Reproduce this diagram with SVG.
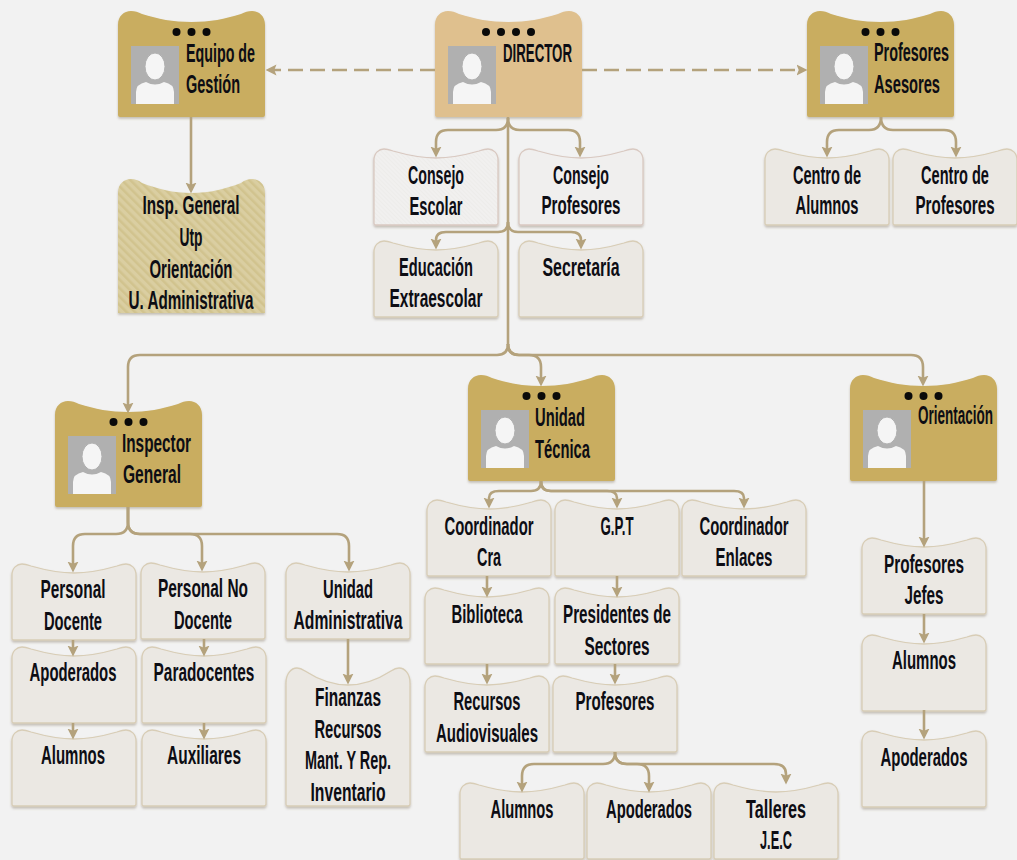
<svg xmlns="http://www.w3.org/2000/svg" width="1017" height="860" viewBox="0 0 1017 860">
<style>
text{font-family:"Liberation Sans Narrow","Liberation Sans",Arial,sans-serif;font-weight:700;font-size:25px;fill:#0d0d14;text-anchor:middle}
text.s{text-anchor:start}
.head{fill:#c9ad60;filter:url(#sh)}
.dir{fill:#dfc08e;filter:url(#sh)}
.box{fill:#ebe8e3;stroke:#d8cdb6;stroke-width:1.3;filter:url(#sh)}
.pale{fill:url(#hatch);stroke:#d9c9c1;stroke-width:1.3;filter:url(#sh)}
.pale2{fill:#f0efee;stroke:#d9c9c1;stroke-width:1.3;filter:url(#sh)}
.striped{fill:url(#stripe);filter:url(#sh)}
.c{fill:none;stroke:#b4a27c;stroke-width:2.6;marker-end:url(#ah)}
.d{fill:none;stroke:#b4a27c;stroke-width:2.6;stroke-dasharray:15 7;marker-end:url(#ah)}
.l{fill:none;stroke:#b4a27c;stroke-width:2.6}
</style>
<defs>
<filter id="sh" x="-5%" y="-5%" width="110%" height="112%"><feDropShadow dx="0" dy="1.800" stdDeviation="1" flood-color="#6e6040" flood-opacity="0.35"/></filter>
<marker id="ah" viewBox="0 0 10 10" refX="5" refY="5" markerWidth="11" markerHeight="12" markerUnits="userSpaceOnUse" orient="auto"><path d="M0 0L10 5L0 10L2 5Z" fill="#b4a27c"/></marker>
<pattern id="stripe" width="6" height="6" patternUnits="userSpaceOnUse" patternTransform="rotate(-45)"><rect width="6" height="6" fill="#dacea1"/><rect width="2.500" height="6" fill="#d1c38e"/></pattern>
<pattern id="hatch" width="3" height="3" patternUnits="userSpaceOnUse" patternTransform="rotate(-45)"><rect width="3" height="3" fill="#f1f0ef"/><rect width="1" height="3" fill="#edecea"/></pattern>
<path id="h" d="M0 105V15C0 6 6 1 13 1C17 1 20 2 24 4C40 9 55 12 73.500 12C92 12 107 9 123 4C127 2 130 1 134 1C141 1 147 6 147 15V105Q147 107 145 107H2Q0 107 0 105Z"/>
<path id="b" d="M0 74V11C0 4 5 0 10 0C13 0 16 1 19 2C33 6 46 9 62 9C78 9 91 6 105 2C108 1 111 0 114 0C119 0 124 4 124 11V74Q124 76 122 76H2Q0 76 0 74Z"/>
<path id="i" d="M0 135V15C0 6 6 1 13 1C17 1 20 2 24 5C40 11 55 15 73.500 15C92 15 107 11 123 5C127 2 130 1 134 1C141 1 147 6 147 15V135Z"/>
<path id="f" d="M0 136V15C0 6 5 0 11 0C14 0 16 1 19 3C33 12 46 17 62 17C78 17 91 12 105 3C108 1 110 0 113 0C119 0 124 6 124 15V136Q124 138 122 138H2Q0 138 0 136Z"/>
<g id="p"><rect x="13" y="36" width="48" height="58" fill="#b0b0b0"/><path d="M18 94V82Q18 74 28 72Q37 77 46 72Q56 74 56 82V94Z" fill="#f5f5f5"/><ellipse cx="37" cy="56.500" rx="10" ry="13.500" fill="#f5f5f5" stroke="#b0b0b0"/></g>
<g id="d3" fill="#0a0a0a"><circle cx="58.500" cy="22" r="4"/><circle cx="73.500" cy="22" r="4"/><circle cx="88.500" cy="22" r="4"/></g>
<g id="d4" fill="#0a0a0a"><circle cx="51" cy="22" r="4"/><circle cx="66" cy="22" r="4"/><circle cx="81" cy="22" r="4"/><circle cx="96" cy="22" r="4"/></g>
</defs>
<rect width="1017" height="860" fill="#f2f2f2"/>

<g id="n-equipo" transform="translate(118 10)"><use href="#h" class="head"/><use href="#d3"/><use href="#p"/></g>
<g id="n-equipo-t"><text class="s" x="186" y="62" textLength="69" lengthAdjust="spacingAndGlyphs">Equipo de</text><text class="s" x="186" y="93" textLength="54" lengthAdjust="spacingAndGlyphs">Gestión</text></g>
<g id="n-director" transform="translate(435 10)"><use href="#h" class="dir"/><use href="#d4"/><use href="#p"/></g>
<g id="n-director-t"><text class="s" x="503" y="62" textLength="69" lengthAdjust="spacingAndGlyphs">DIRECTOR</text></g>
<g id="n-asesores" transform="translate(807 10)"><use href="#h" class="head"/><use href="#d3"/><use href="#p"/></g>
<g id="n-asesores-t"><text class="s" x="874" y="61" textLength="75" lengthAdjust="spacingAndGlyphs">Profesores</text><text class="s" x="874" y="93" textLength="66" lengthAdjust="spacingAndGlyphs">Asesores</text></g>
<g id="n-inspector" transform="translate(55 400)"><use href="#h" class="head"/><use href="#d3"/><use href="#p"/></g>
<g id="n-inspector-t"><text class="s" x="122" y="452" textLength="69" lengthAdjust="spacingAndGlyphs">Inspector</text><text class="s" x="123" y="483" textLength="58" lengthAdjust="spacingAndGlyphs">General</text></g>
<g id="n-unidad" transform="translate(468 374)"><use href="#h" class="head"/><use href="#d3"/><use href="#p"/></g>
<g id="n-unidad-t"><text class="s" x="535" y="426" textLength="50" lengthAdjust="spacingAndGlyphs">Unidad</text><text class="s" x="535" y="458" textLength="55" lengthAdjust="spacingAndGlyphs">Técnica</text></g>
<g id="n-orientacion" transform="translate(850 374)"><use href="#h" class="head"/><use href="#d3"/><use href="#p"/></g>
<g id="n-orientacion-t"><text class="s" transform="translate(918 424) scale(.6 1)" textLength="125" lengthAdjust="spacingAndGlyphs">Orientación</text></g>

<g id="n-insp-list"><use href="#i" class="striped" x="118" y="178"/><text x="191" y="214" textLength="97" lengthAdjust="spacingAndGlyphs">Insp. General</text><text x="191" y="246" textLength="23" lengthAdjust="spacingAndGlyphs">Utp</text><text x="191" y="278" textLength="83" lengthAdjust="spacingAndGlyphs">Orientación</text><text x="191" y="309" textLength="125" lengthAdjust="spacingAndGlyphs">U. Administrativa</text></g>

<g id="n-cescolar"><use href="#b" class="pale" x="374" y="149"/><text x="436" y="184" textLength="56" lengthAdjust="spacingAndGlyphs">Consejo</text><text x="436" y="215" textLength="53" lengthAdjust="spacingAndGlyphs">Escolar</text></g>
<g id="n-cprof"><use href="#b" class="pale2" x="519" y="149"/><text x="581" y="184" textLength="56" lengthAdjust="spacingAndGlyphs">Consejo</text><text x="581" y="214" textLength="79" lengthAdjust="spacingAndGlyphs">Profesores</text></g>
<g id="n-extra"><use href="#b" class="box" x="374" y="241"/><text x="436" y="276" textLength="74" lengthAdjust="spacingAndGlyphs">Educación</text><text x="436" y="307" textLength="93" lengthAdjust="spacingAndGlyphs">Extraescolar</text></g>
<g id="n-secre"><use href="#b" class="box" x="519" y="241"/><text x="581" y="276" textLength="77" lengthAdjust="spacingAndGlyphs">Secretaría</text></g>
<g id="n-calum"><use href="#b" class="box" x="765" y="149"/><text x="827" y="184" textLength="68" lengthAdjust="spacingAndGlyphs">Centro de</text><text x="827" y="214" textLength="63" lengthAdjust="spacingAndGlyphs">Alumnos</text></g>
<g id="n-cprofes"><use href="#b" class="box" x="893" y="149"/><text transform="translate(955 184) scale(.7 1)" textLength="97" lengthAdjust="spacingAndGlyphs">Centro de</text><text transform="translate(955 214) scale(.7 1)" textLength="113" lengthAdjust="spacingAndGlyphs">Profesores</text></g>

<g id="n-pdoc"><use href="#b" class="box" x="12" y="564"/><text x="73" y="598" textLength="65" lengthAdjust="spacingAndGlyphs">Personal</text><text x="73" y="630" textLength="58" lengthAdjust="spacingAndGlyphs">Docente</text></g>
<g id="n-pnodoc"><use href="#b" class="box" x="141" y="563"/><text x="203" y="597" textLength="90" lengthAdjust="spacingAndGlyphs">Personal No</text><text x="203" y="629" textLength="58" lengthAdjust="spacingAndGlyphs">Docente</text></g>
<g id="n-uadm"><use href="#b" class="box" x="286" y="563"/><text x="348" y="598" textLength="50" lengthAdjust="spacingAndGlyphs">Unidad</text><text x="348" y="629" textLength="109" lengthAdjust="spacingAndGlyphs">Administrativa</text></g>
<g id="n-apo1"><use href="#b" class="box" x="12" y="647"/><text transform="translate(73 681) scale(.7 1)" textLength="124" lengthAdjust="spacingAndGlyphs">Apoderados</text></g>
<g id="n-para"><use href="#b" class="box" x="142" y="647"/><text transform="translate(204 681) scale(.7 1)" textLength="144" lengthAdjust="spacingAndGlyphs">Paradocentes</text></g>
<g id="n-alu1"><use href="#b" class="box" x="12" y="730"/><text x="73" y="764" textLength="64" lengthAdjust="spacingAndGlyphs">Alumnos</text></g>
<g id="n-aux"><use href="#b" class="box" x="142" y="730"/><text x="204" y="764" textLength="74" lengthAdjust="spacingAndGlyphs">Auxiliares</text></g>
<g id="n-fin"><use href="#f" class="box" x="286" y="668"/><text x="348" y="706" textLength="66" lengthAdjust="spacingAndGlyphs">Finanzas</text><text x="348" y="738" textLength="67" lengthAdjust="spacingAndGlyphs">Recursos</text><text x="348" y="769" textLength="86" lengthAdjust="spacingAndGlyphs">Mant. Y Rep.</text><text x="348" y="801" textLength="75" lengthAdjust="spacingAndGlyphs">Inventario</text></g>

<g id="n-ccra"><use href="#b" class="box" x="427" y="500"/><text x="489" y="535" textLength="89" lengthAdjust="spacingAndGlyphs">Coordinador</text><text x="489" y="566" textLength="24" lengthAdjust="spacingAndGlyphs">Cra</text></g>
<g id="n-gpt"><use href="#b" class="box" x="555" y="500"/><text x="617" y="535" textLength="33" lengthAdjust="spacingAndGlyphs">G.P.T</text></g>
<g id="n-cenl"><use href="#b" class="box" x="682" y="500"/><text x="744" y="535" textLength="89" lengthAdjust="spacingAndGlyphs">Coordinador</text><text x="744" y="566" textLength="57" lengthAdjust="spacingAndGlyphs">Enlaces</text></g>
<g id="n-bib"><use href="#b" class="box" x="425" y="588"/><text x="487" y="623" textLength="71" lengthAdjust="spacingAndGlyphs">Biblioteca</text></g>
<g id="n-pres"><use href="#b" class="box" x="555" y="588"/><text x="617" y="623" textLength="108" lengthAdjust="spacingAndGlyphs">Presidentes de</text><text x="617" y="655" textLength="65" lengthAdjust="spacingAndGlyphs">Sectores</text></g>
<g id="n-rec"><use href="#b" class="box" x="425" y="676"/><text x="487" y="710" textLength="67" lengthAdjust="spacingAndGlyphs">Recursos</text><text x="487" y="742" textLength="102" lengthAdjust="spacingAndGlyphs">Audiovisuales</text></g>
<g id="n-prof"><use href="#b" class="box" x="553" y="676"/><text x="615" y="710" textLength="79" lengthAdjust="spacingAndGlyphs">Profesores</text></g>
<g id="n-alu2"><use href="#b" class="box" x="460" y="783"/><text x="522" y="818" textLength="63" lengthAdjust="spacingAndGlyphs">Alumnos</text></g>
<g id="n-apo2"><use href="#b" class="box" x="587" y="783"/><text x="649" y="818" textLength="86" lengthAdjust="spacingAndGlyphs">Apoderados</text></g>
<g id="n-tall"><use href="#b" class="box" x="714" y="783"/><text x="776" y="818" textLength="60" lengthAdjust="spacingAndGlyphs">Talleres</text><text x="776" y="849" textLength="32" lengthAdjust="spacingAndGlyphs">J.E.C</text></g>

<g id="n-jefes"><use href="#b" class="box" x="862" y="538"/><text x="924" y="573" textLength="80" lengthAdjust="spacingAndGlyphs">Profesores</text><text x="924" y="604" textLength="39" lengthAdjust="spacingAndGlyphs">Jefes</text></g>
<g id="n-alu3"><use href="#b" class="box" x="862" y="635"/><text x="924" y="669" textLength="64" lengthAdjust="spacingAndGlyphs">Alumnos</text></g>
<g id="n-apo3"><use href="#b" class="box" x="862" y="731"/><text x="924" y="766" textLength="87" lengthAdjust="spacingAndGlyphs">Apoderados</text></g>

<g id="connectors">
<path class="d" d="M435 70H271"/>
<path class="d" d="M582 70H802"/>
<path class="c" d="M191 117V188"/>
<path class="l" d="M508 117V345"/>
<path class="c" d="M508 118Q508 130 496 130H448Q436 130 436 142V152"/>
<path class="c" d="M508 118Q508 130 520 130H568Q580 130 580 142V152"/>
<path class="c" d="M508 222Q508 232 498 232H446Q436 232 436 240V244"/>
<path class="c" d="M508 222Q508 232 518 232H571Q581 232 581 240V244"/>
<path class="c" d="M508 344Q508 355 497 355H140Q128 355 128 367V408"/>
<path class="c" d="M508 344Q508 355 519 355H529Q541 355 541 367V381"/>
<path class="c" d="M508 344Q508 355 519 355H911Q923 355 923 367V381"/>
<path class="c" d="M881 117Q881 130 869 130H839Q827 130 827 142V152"/>
<path class="c" d="M881 117Q881 130 893 130H944Q956 130 956 142V152"/>
<path class="c" d="M128 507V522Q128 534 116 534H85Q73 534 73 546V567"/>
<path class="c" d="M128 507V522Q128 534 140 534H190Q202 534 202 546V566"/>
<path class="c" d="M128 507V522Q128 534 140 534H337Q349 534 349 546V566"/>
<path class="c" d="M541 481Q541 491 531 491H499Q489 491 489 498V503"/>
<path class="c" d="M541 481Q541 491 551 491H607Q617 491 617 498V503"/>
<path class="c" d="M541 481Q541 491 551 491H734Q744 491 744 498V503"/>
<path class="c" d="M487 576V592"/>
<path class="c" d="M617 576V592"/>
<path class="c" d="M487 664V679"/>
<path class="c" d="M615 664V679"/>
<path class="c" d="M615 752Q615 764 603 764H534Q522 764 522 776V787"/>
<path class="c" d="M615 752Q615 764 627 764H637Q649 764 649 776V787"/>
<path class="c" d="M615 752Q615 764 627 764H774Q786 764 786 774V779"/>
<path class="c" d="M73 640V651"/>
<path class="c" d="M204 639V651"/>
<path class="c" d="M73 723V734"/>
<path class="c" d="M204 723V734"/>
<path class="c" d="M348 639V679"/>
<path class="c" d="M924 481V542"/>
<path class="c" d="M924 614V638"/>
<path class="c" d="M924 710V734"/>
</g>
</svg>
